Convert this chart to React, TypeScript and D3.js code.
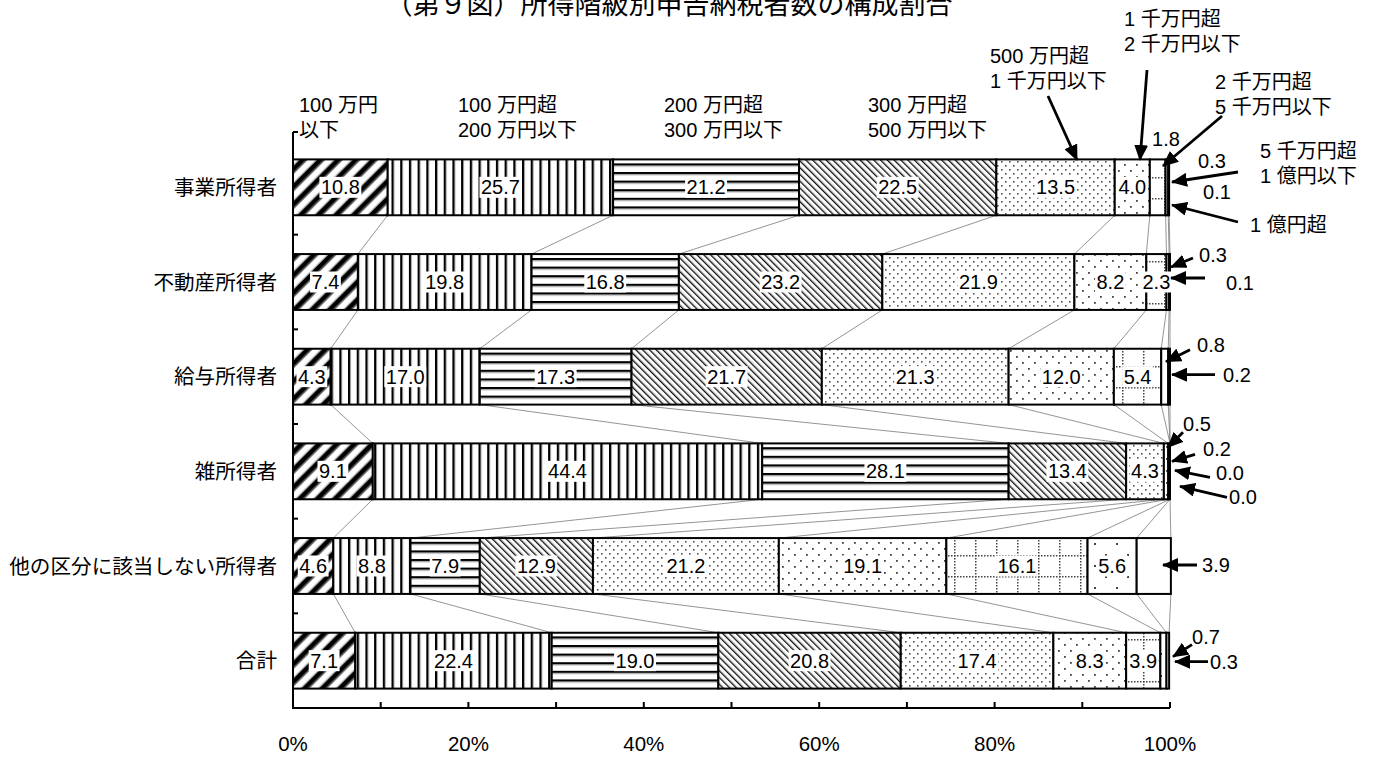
import React from "react";
import * as d3 from "d3";

// ---- data ----
const categories = [
  "事業所得者",
  "不動産所得者",
  "給与所得者",
  "雑所得者",
  "他の区分に該当しない所得者",
  "合計",
];

const jigyo = [10.8, 25.7, 21.2, 22.5, 13.5, 4.0, 1.8, 0.3, 0.1];
const fudosan = [7.4, 19.8, 16.8, 23.2, 21.9, 8.2, 2.3, 0.3, 0.1];
const kyuyo = [4.3, 17.0, 17.3, 21.7, 21.3, 12.0, 5.4, 0.8, 0.2];
const zatsu = [9.1, 44.4, 28.1, 13.4, 4.3, 0.5, 0.2, 0.0, 0.0];
const sonota = [4.6, 8.8, 7.9, 12.9, 21.2, 19.1, 16.1, 5.6, 3.9];
const gokei = [7.1, 22.4, 19.0, 20.8, 17.4, 8.3, 3.9, 0.7, 0.3];

const rows = [jigyo, fudosan, kyuyo, zatsu, sonota, gokei];
// number of leading segments whose value is written inside the bar
const insideCounts = [6, 7, 7, 5, 8, 7];

const xTicks = [0, 20, 40, 60, 80, 100];
const xMinorTicks = [10, 20, 30, 40, 50, 60, 70, 80, 90, 100];

const bracketLabels = [
  ["100 万円", "以下"],
  ["100 万円超", "200 万円以下"],
  ["200 万円超", "300 万円以下"],
  ["300 万円超", "500 万円以下"],
];

const W = 1381;
const H = 758;
const FONT = "'Liberation Sans', 'Noto Sans CJK JP', sans-serif";

const x = d3.scaleLinear().domain([0, 100]).range([293, 1170]);
const y = d3
  .scaleBand<string>()
  .domain(categories)
  .range([140, 708])
  .paddingInner(0.41)
  .paddingOuter(0.205);
const bw = y.bandwidth();

const ends = rows.map((r) => Array.from(d3.cumsum(r)));
const starts = ends.map((e, i) => e.map((v, k) => v - rows[i][k]));

// value labels placed outside the bars, offsets from the 100% edge / row centre
type Callout = { row: number; seg: number; t: [number, number]; a: [number, number, number, number] | null };
const callouts: Callout[] = [
  { row: 0, seg: 6, t: [-4, -48], a: null },
  { row: 0, seg: 7, t: [42, -26], a: null },
  { row: 0, seg: 8, t: [47, 5], a: null },
  { row: 1, seg: 7, t: [43, -27], a: [23, -24, 1, -15] },
  { row: 1, seg: 8, t: [70, 1], a: [35, -4, 1, -4] },
  { row: 2, seg: 7, t: [41, -32], a: [20, -27, -4, -15] },
  { row: 2, seg: 8, t: [67, -2], a: [45, -2, 2, -2] },
  { row: 3, seg: 5, t: [27, -47], a: [13, -39, -2, -24] },
  { row: 3, seg: 6, t: [47, -22], a: [25, -17, 2, -10] },
  { row: 3, seg: 7, t: [60, 2], a: [40, 6, 5, -1] },
  { row: 3, seg: 8, t: [73, 26], a: [57, 26, 10, 15] },
  { row: 4, seg: 8, t: [46, -1], a: [27, -1, -7, -1] },
  { row: 5, seg: 7, t: [36, -24], a: [22, -16, 3, -4] },
  { row: 5, seg: 8, t: [54, 1], a: [38, 1, 5, 1] },
];

// bracket names for the upper income classes, with pointer arrows
type Note = { lines: string[]; x: number; y: number; arrow: [number, number, number, number] };
const notes: Note[] = [
  { lines: ["500 万円超", "1 千万円以下"], x: 990, y: 56, arrow: [1048, 96, 1077, 160] },
  { lines: ["1 千万円超", "2 千万円以下"], x: 1124, y: 19, arrow: [1147, 70, 1140, 160] },
  { lines: ["2 千万円超", "5 千万円以下"], x: 1215, y: 82, arrow: [1222, 116, 1163, 166] },
  { lines: ["5 千万円超", "1 億円以下"], x: 1260, y: 151, arrow: [1238, 172, 1172, 182] },
  { lines: ["1 億円超"], x: 1250, y: 225, arrow: [1238, 222, 1172, 205] },
];

const textWidth = (s: string, fs: number) =>
  s.split("").reduce((w, c) => w + (c === "." ? 0.278 : 0.556), 0) * fs;

function Patterns() {
  const dots6: number[] = [0, 3, 6, 9, 12, 15, 18];
  return (
    <defs>
      <pattern id="p0" width="12.5" height="12" patternUnits="userSpaceOnUse" patternTransform="rotate(45)">
        <rect width="12.5" height="12" fill="#fff" />
        <rect x="0" width="4.6" height="12" fill="#000" />
        <rect x="4.6" width="1.2" height="12" fill="#777" />
        <rect x="11.3" width="1.2" height="12" fill="#999" />
      </pattern>
      <pattern id="p1" width="8.7" height="10" patternUnits="userSpaceOnUse">
        <rect width="8.7" height="10" fill="#fff" />
        <rect x="0" width="2" height="10" fill="#000" />
        <rect x="2" width="1" height="10" fill="#999" />
      </pattern>
      <pattern id="p2" width="10" height="8.6" patternUnits="userSpaceOnUse">
        <rect width="10" height="8.6" fill="#fff" />
        <rect y="0" width="10" height="2" fill="#000" />
        <rect y="2" width="10" height="1.2" fill="#999" />
      </pattern>
      <pattern id="p3" width="4.8" height="10" patternUnits="userSpaceOnUse" patternTransform="rotate(-45)">
        <rect width="4.8" height="10" fill="#fff" />
        <rect x="0" width="1.4" height="10" fill="#111" />
        <rect x="1.4" width="0.7" height="10" fill="#aaa" />
      </pattern>
      <pattern id="p4" width="8" height="8" patternUnits="userSpaceOnUse">
        <rect width="8" height="8" fill="#fff" />
        <rect x="1" y="1" width="1.6" height="1.6" fill="#555" />
        <rect x="5" y="5" width="1.6" height="1.6" fill="#555" />
      </pattern>
      <pattern id="p5" width="12" height="12" patternUnits="userSpaceOnUse">
        <rect width="12" height="12" fill="#fff" />
        <rect x="2" y="2" width="1.8" height="1.8" fill="#444" />
        <rect x="8" y="8" width="1.8" height="1.8" fill="#444" />
      </pattern>
      <pattern id="p6" width="21" height="21" patternUnits="userSpaceOnUse">
        <rect width="21" height="21" fill="#fff" />
        {dots6.map((d) => (
          <rect key={"h" + d} x={d} y={9} width="1.5" height="1.5" fill="#444" />
        ))}
        {dots6.map((d) => (
          <rect key={"v" + d} x={9} y={d} width="1.5" height="1.5" fill="#444" />
        ))}
      </pattern>
      <pattern id="p7" width="22" height="22" patternUnits="userSpaceOnUse">
        <rect width="22" height="22" fill="#fff" />
        <rect x="5" y="4" width="2" height="2" fill="#444" />
        <rect x="16" y="15" width="2" height="2" fill="#444" />
      </pattern>
      <pattern id="p8" width="10" height="10" patternUnits="userSpaceOnUse">
        <rect width="10" height="10" fill="#fff" />
      </pattern>
      <marker id="head" viewBox="0 0 16 14" refX="15" refY="7" markerWidth="16" markerHeight="14" markerUnits="userSpaceOnUse" orient="auto">
        <path d="M0,0 L16,7 L0,14 Z" fill="#000" />
      </marker>
    </defs>
  );
}

export default function App() {
  const X100 = x(100);
  const fs = 20;
  return (
    <svg
      width={W}
      height={H}
      style={{ position: "absolute", left: 0, top: 0, background: "#fff" }}
      fontFamily={FONT}
    >
      <Patterns />
      <rect width={W} height={H} fill="#fff" />

      {/* title */}
      <text x={669} y={14} textAnchor="middle" fontSize={27} fill="#000">
        （第９図）所得階級別申告納税者数の構成割合
      </text>

      {/* bracket headings */}
      {bracketLabels.map((ls, i) => (
        <g key={"bl" + i}>
          {ls.map((l, j) => (
            <text key={j} x={[299, 458, 664, 868][i]} y={105 + j * 25} fontSize={fs} dominantBaseline="central">
              {l}
            </text>
          ))}
        </g>
      ))}

      {/* series lines between rows */}
      {rows.slice(0, -1).map((r, i) =>
        r.map((_, k) => (
          <line
            key={`sl${i}-${k}`}
            x1={x(ends[i][k])}
            y1={(y(categories[i]) as number) + bw}
            x2={x(ends[i + 1][k])}
            y2={y(categories[i + 1]) as number}
            stroke="#7a7a7a"
            strokeWidth={0.8}
          />
        ))
      )}

      {/* bars */}
      {rows.map((r, i) =>
        r.map((v, k) => (
          <rect
            key={`b${i}-${k}`}
            x={x(starts[i][k])}
            y={y(categories[i])}
            width={Math.max(0, x(ends[i][k]) - x(starts[i][k]))}
            height={bw}
            fill={`url(#p${k})`}
            stroke="#000"
            strokeWidth={2}
          />
        ))
      )}

      {/* values inside bars */}
      {rows.map((r, i) =>
        r.slice(0, insideCounts[i]).map((v, k) => {
          const s = v.toFixed(1);
          const cx = (x(starts[i][k]) + x(ends[i][k])) / 2;
          const cy = (y(categories[i]) as number) + bw / 2;
          const tw = textWidth(s, fs);
          return (
            <g key={`v${i}-${k}`}>
              <rect x={cx - tw / 2 - 1.5} y={cy - 10.5} width={tw + 3} height={21} fill="#fff" />
              <text x={cx} y={cy} textAnchor="middle" dominantBaseline="central" fontSize={fs}>
                {s}
              </text>
            </g>
          );
        })
      )}

      {/* values outside bars */}
      {callouts.map((c, i) => {
        const cy = (y(categories[c.row]) as number) + bw / 2;
        return (
          <g key={"c" + i}>
            <text
              x={X100 + c.t[0]}
              y={cy + c.t[1]}
              textAnchor="middle"
              dominantBaseline="central"
              fontSize={fs}
            >
              {rows[c.row][c.seg].toFixed(1)}
            </text>
            {c.a && (
              <line
                x1={X100 + c.a[0]}
                y1={cy + c.a[1]}
                x2={X100 + c.a[2]}
                y2={cy + c.a[3]}
                stroke="#000"
                strokeWidth={2.8}
                markerEnd="url(#head)"
              />
            )}
          </g>
        );
      })}

      {/* upper class headings with arrows */}
      {notes.map((n, i) => (
        <g key={"n" + i}>
          {n.lines.map((l, j) => (
            <text key={j} x={n.x} y={n.y + j * 25} fontSize={fs} dominantBaseline="central">
              {l}
            </text>
          ))}
          <line
            x1={n.arrow[0]}
            y1={n.arrow[1]}
            x2={n.arrow[2]}
            y2={n.arrow[3]}
            stroke="#000"
            strokeWidth={2.8}
            markerEnd="url(#head)"
          />
        </g>
      ))}

      {/* y axis */}
      <line x1={x(0)} y1={132} x2={x(0)} y2={709} stroke="#000" strokeWidth={2} />
      <line x1={x(0)} y1={132} x2={x(0) + 5} y2={132} stroke="#000" strokeWidth={2} />
      {d3.range(1, categories.length).map((i) => (
        <line
          key={"yt" + i}
          x1={x(0)}
          x2={x(0) + 5}
          y1={(y(categories[i]) as number) - (y.step() - bw) / 2}
          y2={(y(categories[i]) as number) - (y.step() - bw) / 2}
          stroke="#000"
          strokeWidth={2}
        />
      ))}
      {categories.map((c) => (
        <text
          key={"yl" + c}
          x={277}
          y={(y(c) as number) + bw / 2}
          textAnchor="end"
          dominantBaseline="central"
          fontSize={20.6}
        >
          {c}
        </text>
      ))}

      {/* x axis */}
      <line x1={x(0) - 1} y1={708} x2={x(100)} y2={708} stroke="#000" strokeWidth={2} />
      {xMinorTicks.map((t) => (
        <line key={"xt" + t} x1={x(t)} x2={x(t)} y1={708} y2={702} stroke="#000" strokeWidth={2} />
      ))}
      {xTicks.map((t) => (
        <text key={"xl" + t} x={x(t)} y={743} textAnchor="middle" dominantBaseline="central" fontSize={20.5}>
          {t}%
        </text>
      ))}
    </svg>
  );
}
